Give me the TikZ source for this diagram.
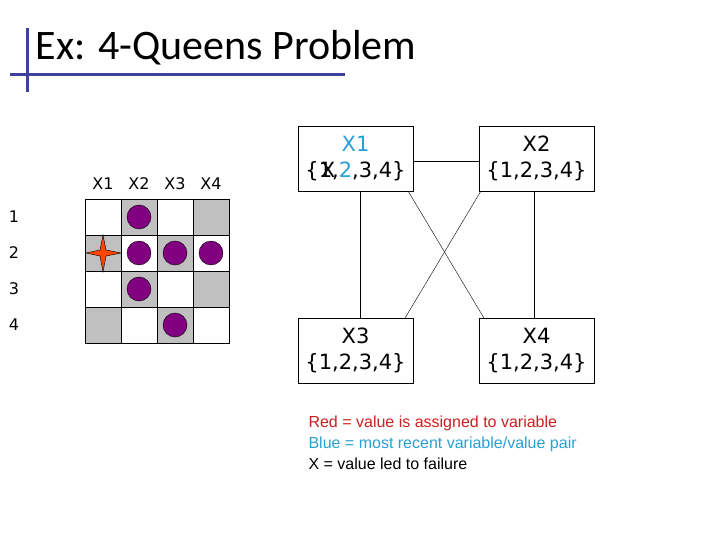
\documentclass[tikz,border=0pt]{standalone}
\usepackage{fontspec}
\setmainfont{DejaVu Sans}
\newfontfamily\calib{Carlito}
\newfontfamily\arialf{Liberation Sans}
\definecolor{slate}{RGB}{64,64,160}
\definecolor{cellgray}{RGB}{192,192,192}
\definecolor{queen}{RGB}{128,0,128}
\definecolor{redv}{RGB}{204,32,32}
\definecolor{bluev}{RGB}{40,160,210}
\definecolor{starc}{RGB}{255,69,0}
\begin{document}
\begin{tikzpicture}[x=1pt,y=-1pt,
  var/.style={draw,fill=white,minimum width=115pt,minimum height=65pt,align=center,font=\fontsize{21}{26}\selectfont,inner sep=1pt},
  cell/.style={draw,minimum size=36pt,inner sep=0pt},
  q/.style={circle,draw,fill=queen,minimum size=24pt,inner sep=0pt},
  lbl/.style={font=\fontsize{16}{19}\selectfont}]
\useasboundingbox (0,0) rectangle (720,540);
\draw[slate,line width=3pt] (27,28) -- (27,92);
\draw[slate,line width=3pt] (10,75) -- (345,75);
\node[anchor=west,font=\calib\fontsize{42}{48}\selectfont] (title) at (32,48) {Ex: 4-Queens Problem};
% board
\foreach \r in {1,...,4}{\foreach \c in {1,...,4}{
  \pgfmathtruncatemacro{\g}{mod(\r+\c,2)}
  \ifnum\g=1 \node[cell,fill=cellgray] (c\r\c) at (85+36*\c-18,199+36*\r-18) {};
  \else \node[cell,fill=white] (c\r\c) at (85+36*\c-18,199+36*\r-18) {};\fi}}
\foreach \c in {1,...,4}{\node[lbl] (h\c) at (85+36*\c-18,184) {X\c};}
\foreach \r in {1,...,4}{\node[lbl] (r\r) at (14,199+36*\r-18) {\r};}
\node[q] (q12) at (c12) {};
\node[q] (q22) at (c22) {};
\node[q] (q23) at (c23) {};
\node[q] (q24) at (c24) {};
\node[q] (q32) at (c32) {};
\node[q] (q43) at (c43) {};
\fill[starc,draw=black,line width=0.4pt] (103,235) -- (106,250) -- (121,253) -- (106,256) -- (103,272) -- (100,256) -- (86,253) -- (100,250) -- cycle;
% constraint graph
\node[var] (x1) at (355.5,158.5) {\textcolor{bluev}{X1}\\\{\rlap{\kern2pt X}1,\textcolor{bluev}{2},3,4\}};
\node[var] (x2) at (536.5,158.5) {X2\\\{1,2,3,4\}};
\node[var] (x3) at (355.5,350.5) {X3\\\{1,2,3,4\}};
\node[var] (x4) at (536.5,350.5) {X4\\\{1,2,3,4\}};
\draw ([yshift=-3pt]x1.east) -- ([yshift=-3pt]x2.west);
\draw ([xshift=5pt]x1.south) -- ([xshift=5pt]x3.north);
\draw ([xshift=-2pt]x2.south) -- ([xshift=-2pt]x4.north);
\draw ([xshift=-5pt]x1.south east) -- ([xshift=5pt]x4.north west);
\draw ([xshift=2pt]x2.south west) -- ([xshift=-8pt]x3.north east);
\node[anchor=north west,align=left,font=\arialf\fontsize{16}{21}\selectfont] (leg) at (305,412)
 {\textcolor{redv}{Red = value is assigned to variable}\\\textcolor{bluev}{Blue = most recent variable/value pair}\\X = value led to failure};
\end{tikzpicture}
\end{document}
